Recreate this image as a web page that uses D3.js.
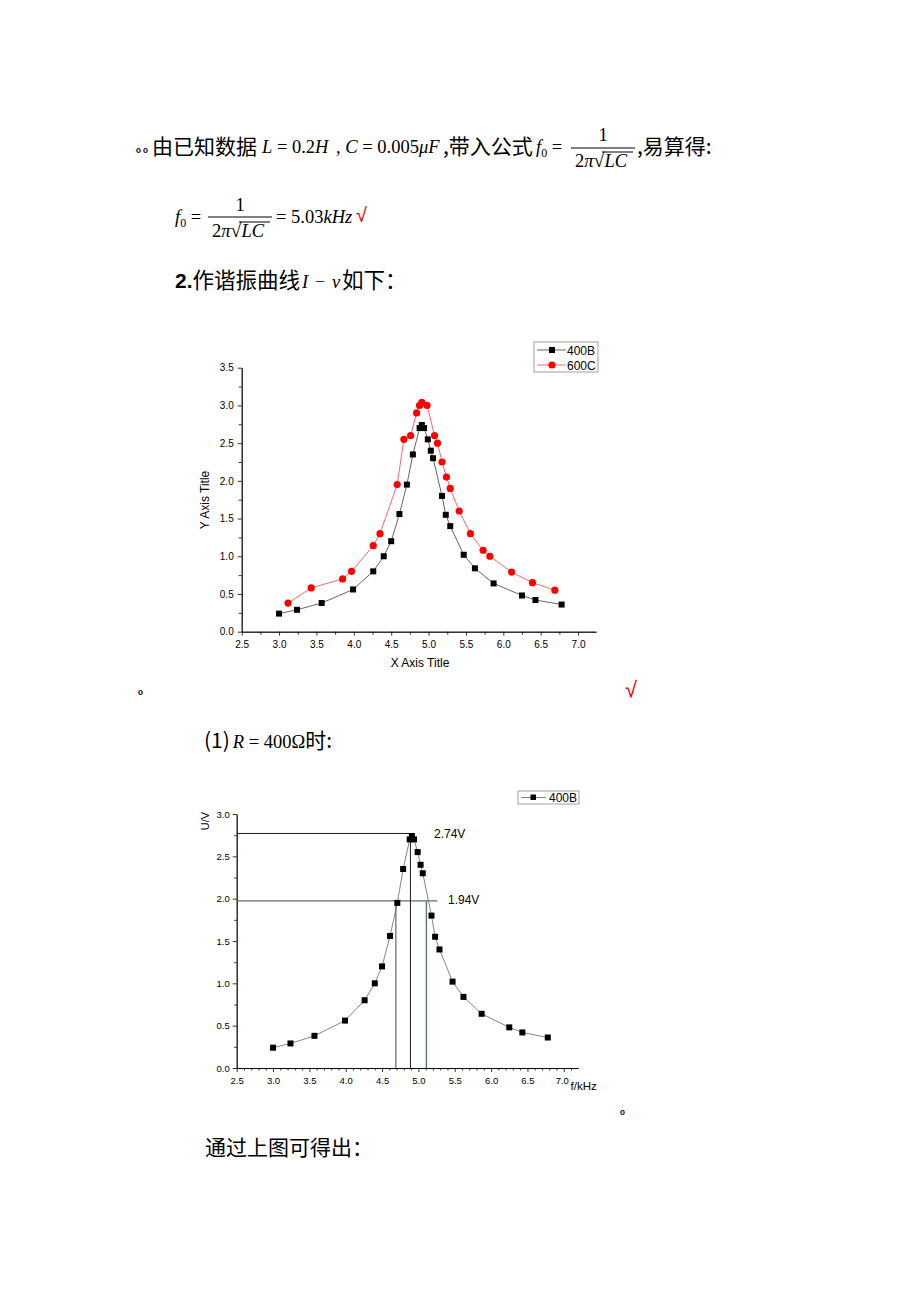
<!DOCTYPE html>
<html><head><meta charset="utf-8">
<script src="https://cdn.jsdelivr.net/npm/d3@7"></script>
<style>
html,body{margin:0;padding:0;background:#fff;}
svg{display:block;}
</style></head>
<body>
<svg id="page" width="920" height="1302"></svg>
<script>
// ---------- data ----------
const freq400B = [3.00,3.24,3.57,3.99,4.26,4.40,4.50,4.61,4.71,4.79,4.88,4.91,4.94,4.99,5.03,5.06,5.18,5.23,5.29,5.47,5.62,5.87,6.25,6.43,6.78];
const volt400B = [0.24,0.29,0.38,0.56,0.80,1.00,1.20,1.56,1.95,2.35,2.70,2.74,2.70,2.55,2.40,2.30,1.80,1.55,1.40,1.02,0.84,0.64,0.48,0.42,0.36];
const freq600C = [3.12,3.43,3.85,3.97,4.26,4.35,4.58,4.67,4.76,4.84,4.88,4.91,4.98,5.08,5.12,5.18,5.24,5.29,5.41,5.56,5.73,5.82,6.11,6.39,6.69];
const volt600C = [0.38,0.58,0.70,0.80,1.14,1.30,1.95,2.55,2.60,2.90,3.00,3.04,3.00,2.60,2.50,2.25,2.05,1.90,1.60,1.30,1.08,1.00,0.79,0.65,0.55];
const seriesNames = ["400B","600C"];
const xTicks = [2.5,3.0,3.5,4.0,4.5,5.0,5.5,6.0,6.5,7.0];
const yTicks1 = [0.0,0.5,1.0,1.5,2.0,2.5,3.0,3.5];
const yTicks2 = [0.0,0.5,1.0,1.5,2.0,2.5,3.0];
// annotation values for chart 2 (U/V and f/kHz)
const peakLevel = 2.77, halfLevel = 1.975;
const fLow = 4.69, fPeak = 4.89, fHigh = 5.11;
const hLineEnds = [4.91, 5.26];
const annotLabels = ["2.74V","1.94V"];

const svg = d3.select("#page");
const CJK = "'Noto Sans CJK SC','Noto Sans',sans-serif";
const SERIF = "'Liberation Serif','DejaVu Serif',serif";
const SANS = "'Liberation Sans',Arial,sans-serif";
const MFS = 18.5;

// ---------- document text ----------
function txt(x,y,s,opt={}){
  const t = svg.append("text").attr("x",x).attr("y",y).text(s)
    .attr("font-family",opt.ff||CJK).attr("font-size",opt.fs||21)
    .attr("fill",opt.fill||"#000");
  if(opt.it) t.attr("font-style","italic");
  if(opt.anchor) t.attr("text-anchor",opt.anchor);
  if(opt.fw) t.attr("font-weight",opt.fw);
  return t;
}
function mark(x,y){ txt(x,y,"ₒ",{ff:SANS,fs:12,fw:"bold"}); }
function fraction(cx,yNum,yBar,yDen,w){
  txt(cx,yNum,"1",{ff:SERIF,fs:MFS,anchor:"middle"});
  svg.append("line").attr("x1",cx-w/2).attr("x2",cx+w/2).attr("y1",yBar).attr("y2",yBar)
     .attr("stroke","#000").attr("stroke-width",1);
  const d = svg.append("text").attr("x",cx-w/2+4).attr("y",yDen)
     .attr("font-family",SERIF).attr("font-size",MFS);
  d.append("tspan").text("2");
  d.append("tspan").text("π").attr("font-style","italic");
  d.append("tspan").text("√").attr("font-size",20);
  d.append("tspan").text("LC").attr("font-style","italic");
  svg.append("line").attr("x1",cx+w/2-33).attr("x2",cx+w/2-2).attr("y1",yDen-15).attr("y2",yDen-15)
     .attr("stroke","#000").attr("stroke-width",1);
}
function f0(x,y){
  const t = svg.append("text").attr("x",x).attr("y",y).attr("font-family",SERIF).attr("font-size",MFS);
  t.append("tspan").text("f").attr("font-style","italic");
  t.append("tspan").text("0").attr("font-size",12).attr("dy",4);
  t.append("tspan").text(" =").attr("dy",-4);
}
// line 1
mark(136,152); mark(143,152);
txt(152,154,"由已知数据");
(function(){
  const t = svg.append("text").attr("x",262).attr("y",153).attr("font-family",SERIF).attr("font-size",MFS);
  t.append("tspan").text("L").attr("font-style","italic");
  t.append("tspan").text(" = 0.2");
  t.append("tspan").text("H").attr("font-style","italic");
  const t2 = svg.append("text").attr("x",336).attr("y",153).attr("font-family",SERIF).attr("font-size",MFS);
  t2.append("tspan").text(", ");
  t2.append("tspan").text("C").attr("font-style","italic");
  t2.append("tspan").text(" = 0.005");
  t2.append("tspan").text("μF").attr("font-style","italic");
})();
txt(443,154,",带入公式");
f0(536,153);
fraction(603,141,148,167,64);
txt(637,154,",易算得:");
// line 2
f0(175,223);
fraction(240,211,217,237,64);
(function(){
  const t = svg.append("text").attr("x",276).attr("y",223).attr("font-family",SERIF).attr("font-size",MFS);
  t.append("tspan").text("= 5.03");
  t.append("tspan").text("kHz").attr("font-style","italic");
})();
txt(356,222,"√",{ff:SANS,fs:20,fill:"#e00"});
// line 3
(function(){
  const t = svg.append("text").attr("x",175).attr("y",288).attr("font-family",CJK).attr("font-size",21.5);
  t.append("tspan").text("2.").attr("font-family",SANS).attr("font-weight","bold").attr("font-size",21);
  t.append("tspan").text("作谐振曲线");
  t.append("tspan").text("I").attr("font-family",SERIF).attr("font-style","italic").attr("font-size",MFS).attr("dx",2);
  t.append("tspan").text(" − ").attr("font-family",SERIF).attr("font-size",MFS).attr("dx",2);
  t.append("tspan").text("v").attr("font-family",SERIF).attr("font-style","italic").attr("font-size",MFS).attr("dx",2);
  t.append("tspan").text("如下：").attr("dx",2);
})();
mark(138,694);
txt(625,697,"√",{ff:SANS,fs:22,fill:"#e00"});
(function(){
  const t = svg.append("text").attr("x",204).attr("y",748).attr("font-family",CJK).attr("font-size",21);
  t.append("tspan").text("(1)");
  t.append("tspan").text("R").attr("font-family",SERIF).attr("font-style","italic").attr("font-size",MFS).attr("dx",3);
  t.append("tspan").text(" = 400Ω").attr("font-family",SERIF).attr("font-size",MFS);
  t.append("tspan").text("时:");
})();
mark(620,1114);
txt(205,1155,"通过上图可得出：");

// ---------- chart 1 ----------
(function(){
  const x = d3.scaleLinear().domain([2.5,7.24]).range([241.7,596]);
  const y = d3.scaleLinear().domain([0,3.5]).range([631.7,367.7]);
  const g = svg.append("g");
  const xa = g.append("g").attr("transform",`translate(0,${y(0)})`)
    .call(d3.axisBottom(x).tickValues(xTicks).tickFormat(d3.format(".1f")).tickSize(4).tickSizeOuter(0));
  const xm = g.append("g").attr("transform",`translate(0,${y(0)})`)
    .call(d3.axisBottom(x).tickValues(d3.range(2.75,7.24,0.5)).tickFormat("").tickSize(3).tickSizeOuter(0));
  const ya = g.append("g").attr("transform",`translate(${x(2.5)},0)`)
    .call(d3.axisLeft(y).tickValues(yTicks1).tickFormat(d3.format(".1f")).tickSize(4).tickSizeOuter(0));
  const ym = g.append("g").attr("transform",`translate(${x(2.5)},0)`)
    .call(d3.axisLeft(y).tickValues(d3.range(0.25,3.5,0.5)).tickFormat("").tickSize(3).tickSizeOuter(0));
  [xa,xm,ya,ym].forEach(a=>{a.selectAll("path,line").attr("stroke","#000").attr("stroke-width",0.8);
    a.selectAll("text").attr("font-family",SANS).attr("font-size",10).attr("fill","#000");});
  xa.selectAll("text").attr("dy","0.9em");
  ya.selectAll("text").attr("dx","-1");
  g.append("text").attr("x",420).attr("y",667).attr("text-anchor","middle").attr("font-family",SANS).attr("font-size",12).text("X Axis Title");
  g.append("text").attr("transform","translate(209,500) rotate(-90)").attr("text-anchor","middle").attr("font-family",SANS).attr("font-size",12).text("Y Axis Title");
  const line = d3.line().x(d=>x(d[0])).y(d=>y(d[1]));
  const dB = freq400B.map((f,i)=>[f,volt400B[i]]);
  const dC = freq600C.map((f,i)=>[f,volt600C[i]]);
  g.append("path").datum(dB).attr("d",line).attr("fill","none").attr("stroke","#555").attr("stroke-width",0.9);
  g.append("path").datum(dC).attr("d",line).attr("fill","none").attr("stroke","#f55").attr("stroke-width",0.9);
  g.selectAll(".sqB").data(dB).join("rect").attr("x",d=>x(d[0])-3).attr("y",d=>y(d[1])-3).attr("width",6).attr("height",6).attr("fill","#000");
  g.selectAll(".cC").data(dC).join("circle").attr("cx",d=>x(d[0])).attr("cy",d=>y(d[1])).attr("r",3.6).attr("fill","#f00");
  // legend
  const lg = g.append("g");
  lg.append("rect").attr("x",534).attr("y",342).attr("width",64).attr("height",30).attr("fill","#fff").attr("stroke","#888").attr("stroke-width",0.8);
  lg.append("line").attr("x1",537).attr("x2",566).attr("y1",350).attr("y2",350).attr("stroke","#555").attr("stroke-width",0.9);
  lg.append("rect").attr("x",549).attr("y",347).attr("width",6).attr("height",6).attr("fill","#000");
  lg.append("text").attr("x",567).attr("y",354.5).attr("font-family",SANS).attr("font-size",12).text(seriesNames[0]);
  lg.append("line").attr("x1",537).attr("x2",566).attr("y1",365).attr("y2",365).attr("stroke","#f55").attr("stroke-width",0.9);
  lg.append("circle").attr("cx",552).attr("cy",365).attr("r",3.6).attr("fill","#f00");
  lg.append("text").attr("x",567).attr("y",369.5).attr("font-family",SANS).attr("font-size",12).text(seriesNames[1]);
})();

// ---------- chart 2 ----------
(function(){
  const x = d3.scaleLinear().domain([2.5,7.2]).range([236.7,578.3]);
  const y = d3.scaleLinear().domain([0,3.0]).range([1068,814]);
  const g = svg.append("g");
  const xa = g.append("g").attr("transform",`translate(0,${y(0)})`)
    .call(d3.axisBottom(x).tickValues(xTicks).tickFormat(d3.format(".1f")).tickSize(4).tickSizeOuter(0));
  const xm = g.append("g").attr("transform",`translate(0,${y(0)})`)
    .call(d3.axisBottom(x).tickValues(d3.range(2.6,7.2,0.1).filter(v=>Math.abs(v*2-Math.round(v*2))>0.01)).tickFormat("").tickSize(2.5).tickSizeOuter(0));
  const ya = g.append("g").attr("transform",`translate(${x(2.5)},0)`)
    .call(d3.axisLeft(y).tickValues(yTicks2).tickFormat(d3.format(".1f")).tickSize(4).tickSizeOuter(0));
  const ym = g.append("g").attr("transform",`translate(${x(2.5)},0)`)
    .call(d3.axisLeft(y).tickValues(d3.range(0.25,3.0,0.5)).tickFormat("").tickSize(2.5).tickSizeOuter(0));
  [xa,xm,ya,ym].forEach(a=>{a.selectAll("path,line").attr("stroke","#000").attr("stroke-width",0.8);
    a.selectAll("text").attr("font-family",SANS).attr("font-size",9.5).attr("fill","#000");});
  xa.selectAll("text").attr("dy","0.9em");
  xa.selectAll(".tick").filter(d=>d===7.0).select("text").attr("dx","-2");
  g.append("text").attr("x",570.5).attr("y",1090).attr("font-family",SANS).attr("font-size",11.5).text("f/kHz");
  g.append("text").attr("transform","translate(209,821) rotate(-90)").attr("text-anchor","middle").attr("font-family",SANS).attr("font-size",11).text("U/V");
  // annotation lines
  g.append("line").attr("x1",x(2.5)).attr("x2",x(hLineEnds[0])).attr("y1",y(peakLevel)).attr("y2",y(peakLevel)).attr("stroke","#000").attr("stroke-width",0.9);
  g.append("line").attr("x1",x(2.5)).attr("x2",x(hLineEnds[1])).attr("y1",y(halfLevel)).attr("y2",y(halfLevel)).attr("stroke","#5f6f5f").attr("stroke-width",1.2);
  g.append("line").attr("x1",x(fLow)).attr("x2",x(fLow)).attr("y1",y(0)).attr("y2",y(halfLevel)).attr("stroke","#6a5f72").attr("stroke-width",1.2);
  g.append("line").attr("x1",x(fPeak)).attr("x2",x(fPeak)).attr("y1",y(0)).attr("y2",y(peakLevel)).attr("stroke","#000").attr("stroke-width",0.9);
  g.append("line").attr("x1",x(fHigh)).attr("x2",x(fHigh)).attr("y1",y(0)).attr("y2",y(halfLevel)).attr("stroke","#5f7a5f").attr("stroke-width",1.4);
  g.append("text").attr("x",434).attr("y",838).attr("font-family",SANS).attr("font-size",12).text(annotLabels[0]);
  g.append("text").attr("x",448).attr("y",904).attr("font-family",SANS).attr("font-size",12).text(annotLabels[1]);
  const line = d3.line().x(d=>x(d[0])).y(d=>y(d[1]));
  const dB = freq400B.map((f,i)=>[f,volt400B[i]]);
  g.append("path").datum(dB).attr("d",line).attr("fill","none").attr("stroke","#666").attr("stroke-width",0.8);
  g.selectAll(".sq2").data(dB).join("rect").attr("x",d=>x(d[0])-3).attr("y",d=>y(d[1])-3).attr("width",6).attr("height",6).attr("fill","#000");
  // legend
  const lg = g.append("g");
  lg.append("rect").attr("x",518).attr("y",791).attr("width",61).attr("height",13).attr("fill","#fff").attr("stroke","#888").attr("stroke-width",0.8);
  lg.append("line").attr("x1",521).attr("x2",546).attr("y1",797.5).attr("y2",797.5).attr("stroke","#666").attr("stroke-width",0.8);
  lg.append("rect").attr("x",530.5).attr("y",794.5).attr("width",5.5).attr("height",5.5).attr("fill","#000");
  lg.append("text").attr("x",549).attr("y",802).attr("font-family",SANS).attr("font-size",12).text(seriesNames[0]);
})();
</script>
</body></html>
